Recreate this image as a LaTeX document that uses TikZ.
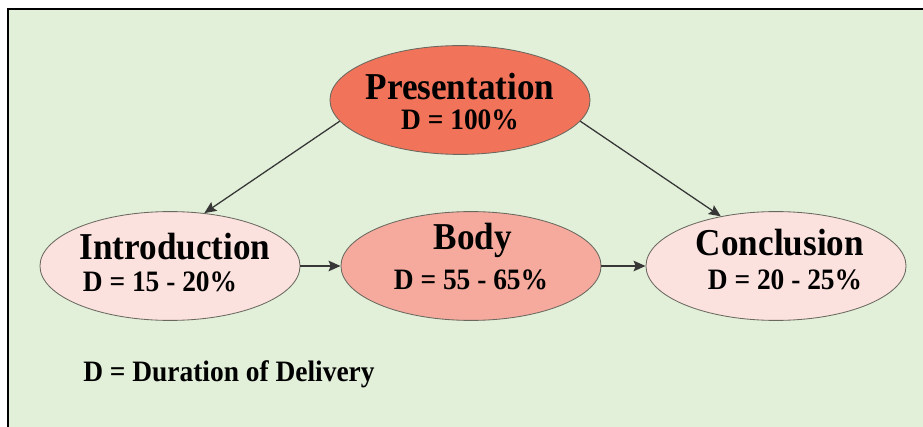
\documentclass[tikz,border=0pt]{standalone}
\usepackage{fontspec}
\setmainfont{Liberation Serif}
\usepackage{tikz}
\usetikzlibrary{shapes.geometric, arrows.meta}

\definecolor{bggreen}{RGB}{226,239,217}
\definecolor{presred}{RGB}{240,115,90}
\definecolor{bodysalmon}{RGB}{245,170,157}
\definecolor{palepink}{RGB}{252,226,222}
\definecolor{rimgray}{RGB}{105,105,95}
\definecolor{arrowgray}{RGB}{55,55,55}

\tikzset{
	part/.style={ellipse, draw=rimgray, line width=0.6pt, inner sep=0pt,
		minimum width=6.5cm, minimum height=2.72cm},
	headtext/.style={font=\fontsize{25}{29}\selectfont\bfseries, inner sep=0pt, yscale=1.08},
	durtext/.style={font=\fontsize{19.5}{23}\selectfont\bfseries, inner sep=0pt, yscale=1.08},
	flow/.style={-{Stealth[length=8.5pt, width=7.5pt, inset=1.5pt]}, line width=0.9pt, draw=arrowgray, fill=black}
}

\begin{document}
\begin{tikzpicture}[x=0.025cm, y=-0.025cm]
	\useasboundingbox (0,0) rectangle (923,427);
	% 背景と枠
	\fill[white] (0,0) rectangle (923,427);
	\fill[bggreen] (8,9) rectangle (923,427);
	\draw[line width=2pt, black] (8,427)--(8,9)--(923,9);
	% 楕円の描画
	\node[part, fill=presred] (pres) at (460,100) {};
	\node[part, fill=palepink] (intro) at (170,266) {};
	\node[part, fill=bodysalmon] (body) at (471,266) {};
	\node[part, fill=palepink] (concl) at (776,266) {};
	% 文字の描画
	\node[headtext] (pres_head) at (460,87) {Presentation};
	\node[durtext] (pres_dur) at (460,120) {D = 100\%};
	\node[headtext] (intro_head) at (175,247) {Introduction};
	\node[durtext] (intro_dur) at (160,282) {D = 15 - 20\%};
	\node[headtext] (body_head) at (473,240) {Body};
	\node[durtext] (body_dur) at (471,280) {D = 55 - 65\%};
	\node[headtext] (concl_head) at (780,243) {Conclusion};
	\node[durtext] (concl_dur) at (785,280) {D = 20 - 25\%};
	\node[durtext, anchor=west] (legend) at (83,374) {D = Duration of Delivery};
	% 矢印の描画
	\draw[flow] (pres.190)--(intro.57);
	\draw[flow] (pres.350)--(concl.138);
	\draw[flow] (intro.east)--(body.west);
	\draw[flow] (body.east)--(concl.west);
\end{tikzpicture}
\end{document}
